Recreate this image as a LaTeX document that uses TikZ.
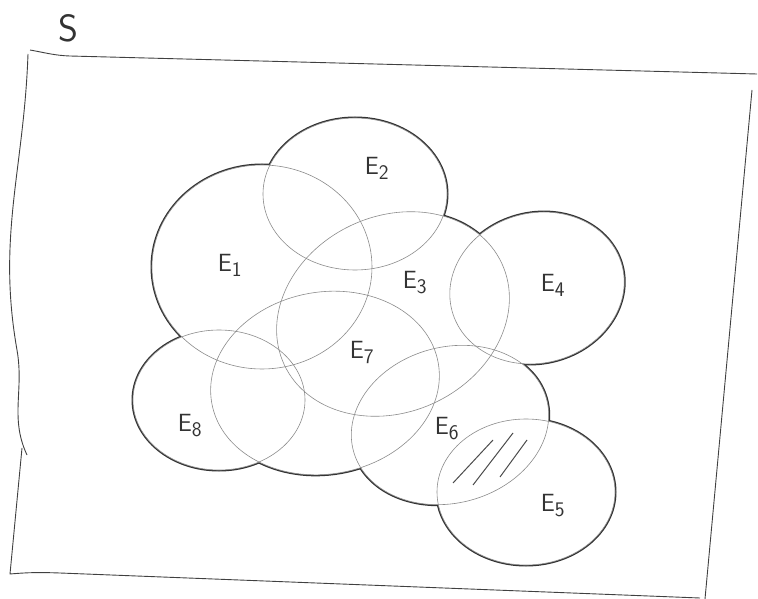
\documentclass[tikz,border=0pt]{standalone}
\begin{document}
\begin{tikzpicture}[x=1pt,y=-1pt,every node/.style={font=\sffamily\fontsize{30}{32}\selectfont,text=black!80}]
\useasboundingbox (0,0) rectangle (758,599);
% sets: x/y/x radius/y radius/tilt
\def\sets{262/267/110/102/0, 355/194/92/76/0, 393/314/120/98/25, 537/288/88/75/15, 526/492/89/73/0, 450/425/100/78/15, 325/383/115/91/10, 219/400/86/70/0}
\foreach \x/\y/\a/\b/\r in \sets{\draw[line width=3pt,black!80,rotate around={\r:(\x,\y)}] (\x,\y) ellipse [x radius=\a,y radius=\b];}
\foreach \x/\y/\a/\b/\r in \sets{\fill[white,rotate around={\r:(\x,\y)}] (\x,\y) ellipse [x radius=\a,y radius=\b];}
% shaded part E5 and E6
\draw[black!70,line width=1pt] (453,483)--(493,440) (473,485)--(513,433) (500,477)--(527,440);
\foreach \x/\y/\a/\b/\r in \sets{\draw[black!45,line width=0.6pt,rotate around={\r:(\x,\y)}] (\x,\y) ellipse [x radius=\a,y radius=\b];}
% sample space
\draw[black!75,line width=0.9pt] (30,50) to[out=-10,in=178] (70,56) -- (757,74);
\draw[black!75,line width=0.9pt] (752,90) -- (705,599);
\draw[black!75,line width=0.9pt] (28,54) to[out=-92,in=100] (17,350) to[out=-80,in=115] (27,455);
\draw[black!75,line width=0.9pt] (22,448) -- (10,574) to[out=5,in=178] (60,573) -- (700,598);
\node[font=\sffamily\fontsize{38}{40}\selectfont] (s) at (68,28) {S};
\node (e1) at (230,265) {$\mathsf{E}_{\mathsf{1}}$};
\node (e2) at (377,168) {$\mathsf{E}_{\mathsf{2}}$};
\node (e3) at (415,282) {$\mathsf{E}_{\mathsf{3}}$};
\node (e4) at (553,285) {$\mathsf{E}_{\mathsf{4}}$};
\node (e5) at (553,505) {$\mathsf{E}_{\mathsf{5}}$};
\node (e6) at (447,428) {$\mathsf{E}_{\mathsf{6}}$};
\node (e7) at (362,352) {$\mathsf{E}_{\mathsf{7}}$};
\node (e8) at (190,425) {$\mathsf{E}_{\mathsf{8}}$};
\end{tikzpicture}
\end{document}
